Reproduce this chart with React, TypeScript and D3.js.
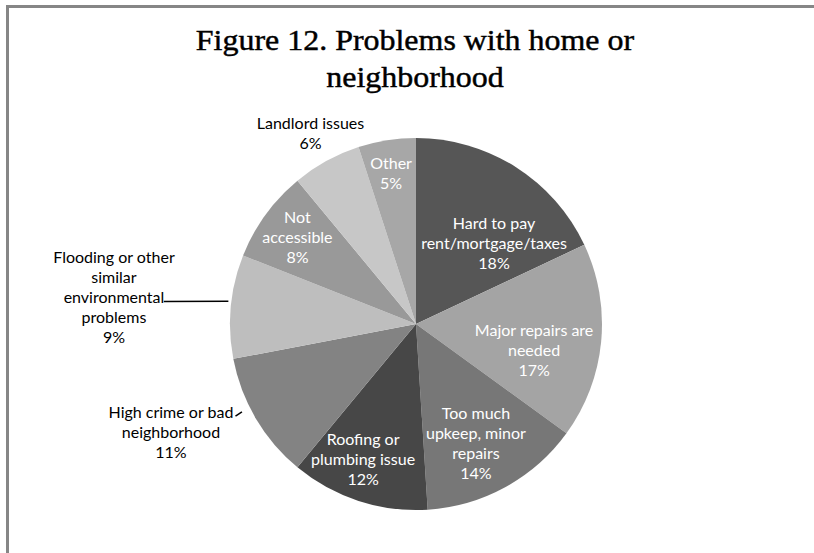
import React from "react";
import * as d3 from "d3";

const categories = [
  "Hard to pay rent/mortgage/taxes",
  "Major repairs are needed",
  "Too much upkeep, minor repairs",
  "Roofing or plumbing issue",
  "High crime or bad neighborhood",
  "Flooding or other similar environmental problems",
  "Not accessible",
  "Landlord issues",
  "Other",
];
const values = [18, 17, 14, 12, 11, 9, 8, 6, 5];
const labelLines = [
  ["Hard to pay", "rent/mortgage/taxes", "18%"],
  ["Major repairs are", "needed", "17%"],
  ["Too much", "upkeep, minor", "repairs", "14%"],
  ["Roofing or", "plumbing issue", "12%"],
  ["High crime or bad", "neighborhood", "11%"],
  ["Flooding or other", "similar", "environmental", "problems", "9%"],
  ["Not", "accessible", "8%"],
  ["Landlord issues", "6%"],
  ["Other", "5%"],
];
const fills = ["#565656", "#a4a4a4", "#777777", "#474747", "#838383", "#bebebe", "#999999", "#c7c7c7", "#a7a7a7"];
const title = ["Figure 12. Problems with home or", "neighborhood"];

// label layout: radius factor (of pie radius), angle offset (deg), inside?, leader line
const labelLayout = [
  { rf: 0.605, da: 11.5, inside: true },
  { rf: 0.65, da: 7, inside: true },
  { rf: 0.72, da: 2.2, inside: true },
  { rf: 0.78, da: 3.4, inside: true },
  { rf: 1.44, da: 6.8, inside: false, leader: { line: 0, angle: 3.8, rOff: 9 } },
  { rf: 1.63, da: -0.4, inside: false, leader: { line: 2, angle: 1.5, rOff: 3 } },
  { rf: 0.79, da: 0.2, inside: true },
  { rf: 1.17, da: -0.2, inside: false },
  { rf: 0.82, da: -0.4, inside: true },
];

const W = 814, H = 553;
const cx = 416, cy = 324, R = 186;
const lineH = 20;
const fontSize = 16;
const labelFont = "Lato, 'Open Sans', sans-serif";

export default function App() {
  const pie = d3.pie<number>().sort(null).value((d) => d);
  const arcs = pie(values);
  const arcGen = d3.arc<d3.PieArcDatum<number>>().innerRadius(0).outerRadius(R);
  const toRad = Math.PI / 180;
  const titleX = 415;

  return (
    <svg width={W} height={H} style={{ position: "absolute", left: 0, top: 0, background: "#fff" }}>
      <rect x={0} y={0} width={W} height={H} fill="#fff" />
      <line x1={6} y1={6.5} x2={W} y2={6.5} stroke="#868686" strokeWidth={3} />
      <line x1={7.5} y1={5} x2={7.5} y2={H} stroke="#868686" strokeWidth={3} />
      <g
        fontFamily="'Liberation Serif', serif"
        fontSize={30}
        fill="#000"
        stroke="#000"
        strokeWidth={0.45}
        textAnchor="middle"
        transform={`translate(${titleX},0) scale(1.065,1)`}
      >
        {title.map((t, i) => (
          <text key={i} x={0} y={50 + i * 37}>{t}</text>
        ))}
      </g>
      <g transform={`translate(${cx},${cy})`}>
        {arcs.map((a, i) => (
          <path key={categories[i]} d={arcGen(a) || ""} fill={fills[i]} />
        ))}
        {arcs.map((a, i) => {
          const lay = labelLayout[i];
          const mid = (a.startAngle + a.endAngle) / 2 + lay.da * toRad;
          const r = R * lay.rf;
          const x = r * Math.sin(mid);
          const y = -r * Math.cos(mid);
          const lines = labelLines[i];
          const y0 = y - ((lines.length - 1) * lineH) / 2;
          const elems: React.ReactNode[] = [];
          lines.forEach((ln, j) => {
            elems.push(
              <text
                key={`t${j}`}
                x={x}
                y={y0 + j * lineH}
                dy="0.35em"
                textAnchor="middle"
                fontFamily={labelFont}
                fontSize={fontSize}
                fill={lay.inside ? "#fff" : "#000"}
              >
                {ln}
              </text>
            );
          });
          if (lay.leader) {
            const ld = lay.leader;
            const lw = lines[ld.line].length * fontSize * 0.46;
            const sx = x + lw / 2 + 2;
            const sy = y0 + ld.line * lineH + 4;
            const ma = (a.startAngle + a.endAngle) / 2 + ld.angle * toRad;
            const ex = (R + ld.rOff) * Math.sin(ma);
            const ey = -(R + ld.rOff) * Math.cos(ma);
            elems.push(
              <polyline key="ld" points={`${sx},${sy} ${ex},${ey}`} fill="none" stroke="#000" strokeWidth={1.5} />
            );
          }
          return <g key={`l${i}`}>{elems}</g>;
        })}
      </g>
    </svg>
  );
}
